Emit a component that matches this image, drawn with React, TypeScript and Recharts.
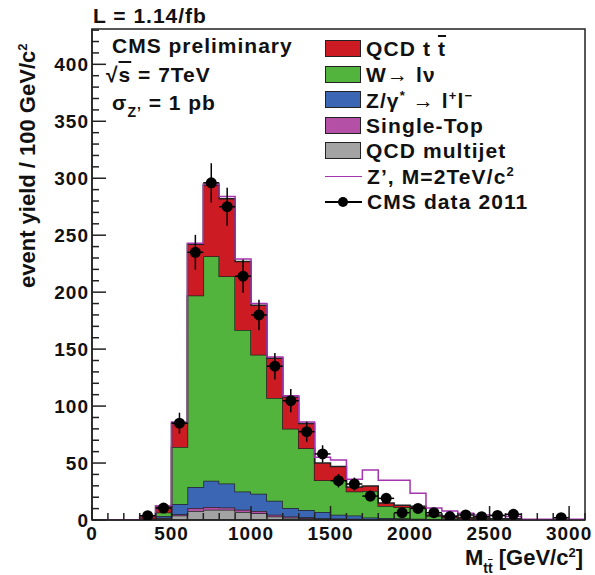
import React from 'react';
import { Area, ComposedChart, ErrorBar, Line, ReferenceArea, Scatter, XAxis, YAxis } from 'recharts';

// lower bin edges in GeV/c^2 (100 GeV bins), last bin closes at 3100
const binEdges = [
  0, 100, 200, 300, 400, 500, 600, 700, 800, 900, 1000, 1100, 1200, 1300, 1400, 1500,
  1600, 1700, 1800, 1900, 2000, 2100, 2200, 2300, 2400, 2500, 2600, 2700, 2800, 2900, 3000,
];
const lastEdge = 3100;

// stacked backgrounds, bottom to top
const qcdMultijet = [
  0, 0, 0, 0.3, 1.5, 4, 8, 9, 9, 7, 6, 3, 2, 1.5, 1, 0.8,
  0.6, 0.4, 0.3, 0.3, 0.2, 0.1, 0.1, 0.1, 0.1, 0.1, 0.1, 0, 0, 0, 0,
];
const singleTop = [
  0, 0, 0, 0.2, 0.5, 1, 2.5, 2.5, 2, 2, 2, 1.5, 1, 1, 0.5, 0.5,
  0.4, 0.3, 0.2, 0.2, 0.2, 0.1, 0.1, 0.1, 0.1, 0.1, 0.1, 0, 0, 0, 0,
];
const zGamma = [
  0, 0, 0, 0.3, 1.5, 9, 18.5, 23, 21, 16, 15, 12.5, 7.5, 6.3, 5.5, 3.3,
  3, 1.5, 1.2, 1, 0.7, 0.4, 0.3, 0.2, 0.2, 0.1, 0.1, 0, 0, 0, 0,
];
const wLnu = [
  0, 0, 0, 0.5, 3, 50, 168, 197, 182, 141.7, 122, 90, 69.5, 54.2, 28, 30.4,
  21, 23.2, 10.6, 9.8, 9.9, 3, 1.5, 1, 0.8, 0.5, 0.4, 0.2, 0.2, 0.1, 0.1,
];
const qcdTtbar = [
  0, 0, 0, 2.2, 5.5, 21, 45, 62.5, 68, 60.3, 43.6, 35, 28, 21.8, 15, 12,
  4, 4.4, 2.7, 1.7, 1, 0.8, 1.5, 0.8, 0.5, 0.4, 0.3, 0.1, 0.1, 0.1, 0.1,
];
// Z' (M = 2 TeV) on top of the background
const zPrime = [
  0, 0, 0, 3.6, 12.2, 86, 243, 295, 284, 229, 190, 143, 109, 86, 55, 52.6,
  35.7, 44, 35, 35, 23.4, 10.5, 8, 6, 4.4, 4, 3, 0.6, 0.6, 0.6, 0.6,
];

// CMS data 2011
const dataMass = [
  350, 450, 550, 650, 750, 850, 950, 1050, 1150, 1250, 1350, 1450, 1550,
  1650, 1750, 1850, 1950, 2050, 2150, 2250, 2350, 2450, 2550, 2650, 2950,
];
const dataYield = [
  3.8, 10.5, 85, 235, 296, 275, 214, 180, 135, 104.7, 77.5, 58, 34.5,
  31.6, 21, 19, 6.4, 10.2, 6.4, 3, 4.4, 2.9, 4, 5, 2,
];
const dataErr = [
  2, 3.2, 9.2, 15.3, 17.2, 16.6, 14.6, 13.4, 11.6, 10.2, 8.8, 7.6, 5.9,
  5.6, 4.6, 4.4, 2.5, 3.2, 2.5, 1.7, 2.1, 1.7, 2, 2.2, 1.4,
];
const halfBin = 50;

const xTicks = [
  0, 100, 200, 300, 400, 500, 600, 700, 800, 900, 1000, 1100, 1200, 1300, 1400, 1500,
  1600, 1700, 1800, 1900, 2000, 2100, 2200, 2300, 2400, 2500, 2600, 2700, 2800, 2900, 3000, 3100,
];
const xLabels = [0, 500, 1000, 1500, 2000, 2500, 3000];
const yTicks = [
  0, 10, 20, 30, 40, 50, 60, 70, 80, 90, 100, 110, 120, 130, 140, 150, 160, 170, 180, 190, 200,
  210, 220, 230, 240, 250, 260, 270, 280, 290, 300, 310, 320, 330, 340, 350, 360, 370, 380, 390,
  400, 410, 420, 430,
];
const yLabels = [0, 50, 100, 150, 200, 250, 300, 350, 400];

const RED = '#cc1b22';
const GREEN = '#52b43c';
const BLUE = '#3a66b4';
const PINK = '#b450a6';
const GRAY = '#a3a3a3';
const ZP = '#a436ad';
const INK = '#222';
const FONT = "'Liberation Sans', Arial, Helvetica, sans-serif";

const histRows = [...binEdges, lastEdge].map((m, i) => {
  const k = Math.min(i, binEdges.length - 1);
  return {
    m,
    multijet: qcdMultijet[k],
    single: singleTop[k],
    zg: zGamma[k],
    w: wLnu[k],
    tt: qcdTtbar[k],
    zp: zPrime[k],
  };
});

const dataRows = dataMass.map((m, i) => ({ m, y: dataYield[i], ey: dataErr[i], ex: halfBin }));

function XTick(props: any) {
  const { x, y, payload } = props;
  const major = xLabels.includes(payload.value);
  return (
    <g>
      <line x1={x} x2={x} y1={y} y2={y - (major ? 14 : 7)} stroke={INK} strokeWidth={1.5} />
      {major && (
        <text x={x} y={y + 20} textAnchor="middle" fontSize={19} fontWeight={700} fill="#111"
          style={{ letterSpacing: 1, fontFamily: FONT }}>
          {payload.value}
        </text>
      )}
    </g>
  );
}

function YTick(props: any) {
  const { x, y, payload } = props;
  const major = yLabels.includes(payload.value);
  return (
    <g>
      <line x1={x} x2={x + (major ? 14 : 7)} y1={y} y2={y} stroke={INK} strokeWidth={1.5} />
      {major && (
        <text x={x - 3} y={y + 7} textAnchor="end" fontSize={19} fontWeight={700} fill="#111"
          style={{ letterSpacing: 1, fontFamily: FONT }}>
          {payload.value}
        </text>
      )}
    </g>
  );
}

const swatch = (color: string) => (
  <div style={{ width: 34, height: 15, background: color, border: `1.5px solid ${INK}`, marginRight: 5 }} />
);

const sup = (s: string) => <span style={{ fontSize: 13, verticalAlign: 8 }}>{s}</span>;
const bar = (s: string) => <span style={{ textDecoration: 'overline' }}>{s}</span>;

const legendItems: { key: string; mark: React.ReactNode; label: React.ReactNode }[] = [
  { key: 'tt', mark: swatch(RED), label: <>QCD t {bar('t')}</> },
  { key: 'w', mark: swatch(GREEN), label: <>W→ lν</> },
  { key: 'zg', mark: swatch(BLUE), label: <>Z/γ{sup('*')} → l{sup('+')}l{sup('−')}</> },
  { key: 'st', mark: swatch(PINK), label: <>Single-Top</> },
  { key: 'mj', mark: swatch(GRAY), label: <>QCD multijet</> },
  {
    key: 'zp',
    mark: <div style={{ width: 37, height: 1.5, background: ZP, marginRight: 5 }} />,
    label: <>Z’, M=2TeV/c{sup('2')}</>,
  },
  {
    key: 'data',
    mark: (
      <div style={{ width: 37, height: 12, marginRight: 5, position: 'relative' }}>
        <div style={{ position: 'absolute', top: 5, left: 0, width: 37, height: 2, background: '#000' }} />
        <div style={{ position: 'absolute', top: 1, left: 13, width: 10, height: 10, borderRadius: 5, background: '#000' }} />
      </div>
    ),
    label: <>CMS data 2011</>,
  },
];

const txt = (left: number, top: number, size: number, content: React.ReactNode, extra: React.CSSProperties = {}) => (
  <div style={{ position: 'absolute', left, top, fontSize: size, lineHeight: 1, whiteSpace: 'nowrap', letterSpacing: 1, ...extra }}>
    {content}
  </div>
);

export default function App() {
  return (
    <div style={{ position: 'absolute', left: 0, top: 0, width: 595, height: 575, background: '#fff', fontFamily: FONT, fontWeight: 700, color: '#111' }}>
      <ComposedChart width={595} height={575} data={histRows} margin={{ top: 29, right: 10, bottom: 25, left: 0 }}>
        <XAxis
          dataKey="m"
          type="number"
          domain={[0, lastEdge]}
          ticks={xTicks}
          interval={0}
          tickSize={0}
          tickMargin={0}
          tickLine={false}
          axisLine={{ stroke: INK, strokeWidth: 1.5 }}
          tick={(p: any) => <XTick {...p} />}
          height={30}
          allowDataOverflow
        />
        <YAxis
          type="number"
          domain={[0, 431]}
          ticks={yTicks}
          interval={0}
          tickSize={0}
          tickMargin={0}
          tickLine={false}
          axisLine={{ stroke: INK, strokeWidth: 1.5 }}
          tick={(p: any) => <YTick {...p} />}
          width={92}
          allowDataOverflow
        />
        <Area type="stepAfter" dataKey="multijet" stackId="bkg" fill={GRAY} fillOpacity={1} stroke={INK} strokeWidth={1.5} isAnimationActive={false} />
        <Area type="stepAfter" dataKey="single" stackId="bkg" fill={PINK} fillOpacity={1} stroke={INK} strokeWidth={1.5} isAnimationActive={false} />
        <Area type="stepAfter" dataKey="zg" stackId="bkg" fill={BLUE} fillOpacity={1} stroke={INK} strokeWidth={1.5} isAnimationActive={false} />
        <Area type="stepAfter" dataKey="w" stackId="bkg" fill={GREEN} fillOpacity={1} stroke={INK} strokeWidth={1.5} isAnimationActive={false} />
        <Area type="stepAfter" dataKey="tt" stackId="bkg" fill={RED} fillOpacity={1} stroke={INK} strokeWidth={1.5} isAnimationActive={false} />
        <Line type="stepAfter" dataKey="zp" stroke={ZP} strokeWidth={1.5} dot={false} isAnimationActive={false} />
        <Scatter
          data={dataRows}
          dataKey="y"
          fill="#000"
          isAnimationActive={false}
          shape={(p: any) => <circle cx={p.cx} cy={p.cy} r={5.5} fill="#000" />}
        >
          <ErrorBar dataKey="ey" direction="y" width={0} stroke="#000" strokeWidth={1.5} />
          <ErrorBar dataKey="ex" direction="x" width={0} stroke="#000" strokeWidth={1.5} />
        </Scatter>
        <ReferenceArea x1={0} x2={lastEdge} y1={0} y2={431} fill="none" stroke={INK} strokeWidth={1.5} ifOverflow="visible" />
      </ComposedChart>

      {txt(93, 5, 21, 'L = 1.14/fb')}
      {txt(112, 35, 21, 'CMS preliminary')}
      {txt(106, 64, 21, <>√<span style={{ textDecoration: 'overline' }}>s</span> = 7TeV</>)}
      {txt(112, 92, 21, <>σ<span style={{ fontSize: 14, verticalAlign: -7 }}>Z’</span> = 1 pb</>)}

      <div style={{ position: 'absolute', left: 325, top: 36, fontSize: 21, letterSpacing: 1.1 }}>
        {legendItems.map((it) => (
          <div key={it.key} style={{ height: 25.5, display: 'flex', alignItems: 'center', whiteSpace: 'nowrap' }}>
            {it.mark}
            <span style={{ lineHeight: 1 }}>{it.label}</span>
          </div>
        ))}
      </div>

      <div style={{ position: 'absolute', left: 16, top: 288, fontSize: 22, lineHeight: 1, whiteSpace: 'nowrap', transform: 'rotate(-90deg)', transformOrigin: '0 0' }}>
        event yield / 100 GeV/c{sup('2')}
      </div>

      <div style={{ position: 'absolute', right: 12, top: 546, fontSize: 22, lineHeight: 1, whiteSpace: 'nowrap' }}>
        M<span style={{ fontSize: 14, verticalAlign: -8 }}>t{bar('t')}</span> [GeV/c{sup('2')}]
      </div>
    </div>
  );
}
